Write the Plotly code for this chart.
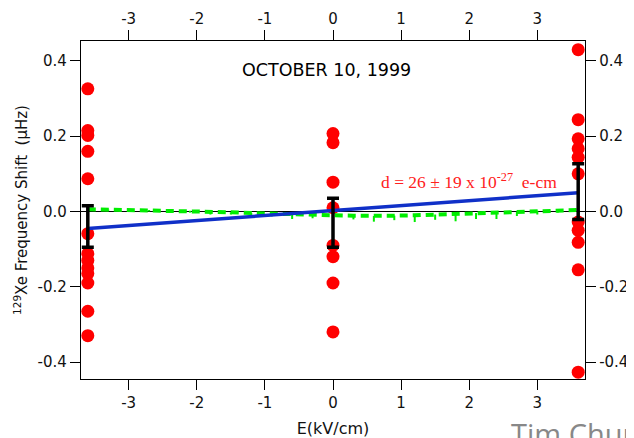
import plotly.graph_objects as go

# ---- data ----
field_neg = -3.6
field_zero = 0.0
field_pos = 3.6
shifts_neg = [0.326, 0.215, 0.202, 0.160, 0.087, -0.059, -0.112, -0.13, -0.15, -0.165, -0.19, -0.265, -0.33]
shifts_zero = [0.207, 0.183, 0.078, 0.01, -0.09, -0.12, -0.19, -0.32]
shifts_pos = [0.43, 0.244, 0.193, 0.167, 0.144, 0.10, -0.028, -0.05, -0.082, -0.155, -0.427]

mean_fields = [-3.6, 0.0, 3.6]
mean_shifts = [-0.04, -0.03, 0.053]
mean_errors = [0.055, 0.065, 0.074]

fit_x = [-3.6, 3.6]
fit_y = [-0.045, 0.05]

model_x = [-3.6 + 0.3 * i for i in range(25)]
model_y = [0.006, 0.005, 0.005, 0.004, 0.003, 0.002, 0.0, -0.002, -0.004, -0.006, -0.008, -0.009,
           -0.010, -0.011, -0.012, -0.011, -0.010, -0.008, -0.006, -0.004, -0.002, 0.0, 0.002, 0.003, 0.004]
model_dip = [0.004, 0.003, 0.005, 0.004, 0.006, 0.005, 0.008, 0.006, 0.010, 0.007, 0.012, 0.009,
             0.014, 0.010, 0.015, 0.012, 0.018, 0.014, 0.020, 0.016, 0.018, 0.012, 0.010, 0.006, 0.004]

x_ticks = [-3, -2, -1, 0, 1, 2, 3]
x_tick_labels = ["-3", "-2", "-1", "0", "1", "2", "3"]
y_ticks = [-0.4, -0.2, 0.0, 0.2, 0.4]
y_tick_labels = ["-0.4", "-0.2", "0.0", "0.2", "0.4"]
x_range = [-3.7, 3.7]
y_range = [-0.445, 0.453]

fig = go.Figure()

red = dict(color="#ff0000", size=13)
fig.add_trace(go.Scatter(x=[field_neg] * len(shifts_neg), y=shifts_neg, mode="markers", marker=red))
fig.add_trace(go.Scatter(x=[field_zero] * len(shifts_zero), y=shifts_zero, mode="markers", marker=red))
fig.add_trace(go.Scatter(x=[field_pos] * len(shifts_pos), y=shifts_pos, mode="markers", marker=red))

fig.add_trace(go.Scatter(
    x=model_x, y=model_y, mode="lines",
    line=dict(color="#00ee00", width=4, dash="8px,5px"),
    error_y=dict(type="data", symmetric=False, array=[0] * len(model_dip), arrayminus=model_dip,
                 color="#00ee00", thickness=2, width=0),
))

fig.add_trace(go.Scatter(x=fit_x, y=fit_y, mode="lines", line=dict(color="#1030c8", width=3.5)))

fig.add_trace(go.Scatter(
    x=mean_fields, y=mean_shifts, mode="markers", marker=dict(size=1, opacity=0),
    error_y=dict(type="data", array=mean_errors, color="black", thickness=3.5, width=6),
))

# dummy traces for top/right axes
fig.add_trace(go.Scatter(x=x_range, y=y_range, xaxis="x2", yaxis="y2", mode="markers",
                         marker=dict(opacity=0), hoverinfo="skip"))

tickfont = dict(family="DejaVu Sans", size=15, color="#111")
axis_common = dict(showline=True, linecolor="black", linewidth=1.3, ticks="outside", ticklen=10,
                   tickwidth=1.3, tickcolor="black", showgrid=False, tickfont=tickfont, automargin=False)

# page body has an 8px margin: figure drawn 8px in from the window's corner
W, H = 626, 430
ML, MT, PW, PH = 73, 33, 504, 338

fig.update_layout(
    width=W, height=H,
    margin=dict(l=ML, r=W - ML - PW, t=MT, b=H - MT - PH),
    paper_bgcolor="white", plot_bgcolor="white",
    showlegend=False,
    xaxis=dict(range=x_range, tickvals=x_ticks, ticktext=x_tick_labels, zeroline=False, **axis_common,
               title=dict(text="E(kV/cm)", font=dict(family="DejaVu Sans", size=16, color="#111"), standoff=11)),
    yaxis=dict(range=y_range, tickvals=y_ticks, ticktext=y_tick_labels, zeroline=True, zerolinecolor="black",
               zerolinewidth=1.3, **axis_common,
               title=dict(text="<sup>129</sup>Xe Frequency Shift  (µHz)",
                          font=dict(family="DejaVu Sans", size=15, color="#111"), standoff=6)),
    xaxis2=dict(range=x_range, tickvals=x_ticks, ticktext=x_tick_labels, overlaying="x", side="top",
                anchor="y", zeroline=False, **axis_common),
    yaxis2=dict(range=y_range, tickvals=y_ticks, ticktext=y_tick_labels, overlaying="y", side="right",
                anchor="x", zeroline=False, **axis_common),
    annotations=[
        dict(x=-0.1, y=0.375, xref="x", yref="y", text="OCTOBER 10, 1999", showarrow=False,
             font=dict(family="DejaVu Sans", size=17.5, color="black")),
        dict(x=2.0, y=0.08, xref="x", yref="y", text="d = 26 ± 19 x 10<sup>-27</sup>  e-cm", showarrow=False,
             font=dict(family="Liberation Serif", size=17.5, color="#ff2020")),
        dict(x=(501 - ML) / PW, y=-(404 - MT - PH) / PH, xref="paper", yref="paper",
             text="Tim Chun", showarrow=False, xanchor="left", yanchor="top",
             font=dict(family="Open Sans", size=29, color="#888")),
    ],
)

fig.write_html("out.html")
